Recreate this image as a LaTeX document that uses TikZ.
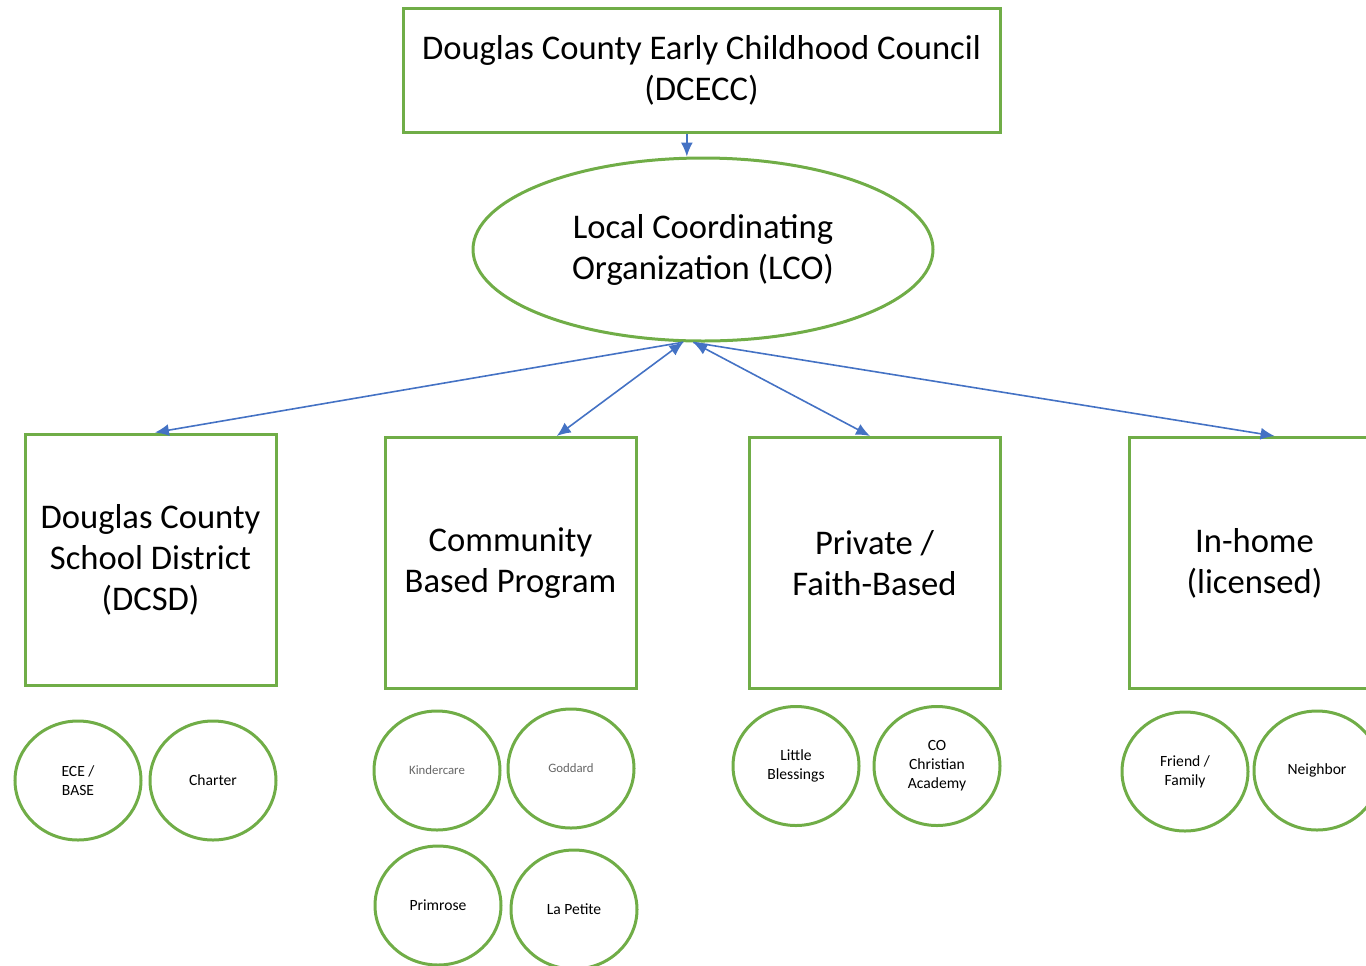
\documentclass[tikz,border=0pt]{standalone}
\usepackage{fontspec}
\setmainfont{Carlito}
\usetikzlibrary{arrows.meta,shapes.geometric}
\definecolor{boxgreen}{RGB}{112,173,71}
\definecolor{linkblue}{RGB}{68,114,196}
\begin{document}
\begin{tikzpicture}[x=0.5pt,y=-0.5pt,
        group/.style={draw=boxgreen,line width=1.5pt,minimum width=125.5pt,minimum height=125.5pt,inner sep=0pt,align=center,font=\fontsize{17.3}{20.5}\selectfont},
        member/.style={draw=boxgreen,line width=1.5pt,ellipse,minimum width=63pt,minimum height=59.5pt,inner sep=0pt,align=center,font=\fontsize{7.8}{9.5}\selectfont},
        faint/.style={text=black!60,font=\fontsize{6.4}{8}\selectfont},
        link/.style={draw=linkblue,line width=0.8pt,-{Latex[length=7pt,width=6pt]}},
        both/.style={link,{Latex[length=7pt,width=6pt]}-{Latex[length=7pt,width=6pt]}}]
        \useasboundingbox (0,0) rectangle (1366,965);
        \node[group,minimum width=298.5pt,minimum height=62pt] (dcecc) at (701.5,70) {Douglas County Early Childhood Council\\(DCECC)};
        \node[group,ellipse,minimum width=230pt,minimum height=91.5pt] (lco) at (703,249.5) {Local Coordinating\\Organization (LCO)};
        \draw[link] (dcecc.257) -- (dcecc.257 |- lco.north);
        % the four kinds of provider
        \node[group] (dcsd) at (150.5,559.5) {Douglas County\\School District\\(DCSD)};
        \node[group] (cbp) at (510.5,563) {Community\\Based Program};
        \node[group] (prv) at (874.5,563) {Private /\\Faith-Based};
        \node[group] (home) at (1254.5,563) {In-home\\(licensed)};
        \draw[link] (lco.258) -- (dcsd.88);
        \draw[both] (lco.258) -- (cbp.70);
        \draw[both] (lco.264) -- (prv.92);
        \draw[link] (lco.264) -- (home.81);
        % members of each kind
        \node[member] (ece) at (78,780.5) {ECE /\\BASE};
        \node[member] (charter) at (213,780.5) {Charter};
        \node[member,faint] (kinder) at (437,770.5) {Kindercare};
        \node[member,faint] (goddard) at (571,768.5) {Goddard};
        \node[member] (primrose) at (438,905.5) {Primrose};
        \node[member] (petite) at (574,909.5) {La Petite};
        \node[member] (blessings) at (796,766) {Little\\Blessings};
        \node[member] (coca) at (937,766) {CO\\Christian\\Academy};
        \node[member] (friend) at (1185,771.5) {Friend /\\Family};
        \node[member] (neighbor) at (1317,770.5) {Neighbor};
    \end{tikzpicture}
\end{document}
